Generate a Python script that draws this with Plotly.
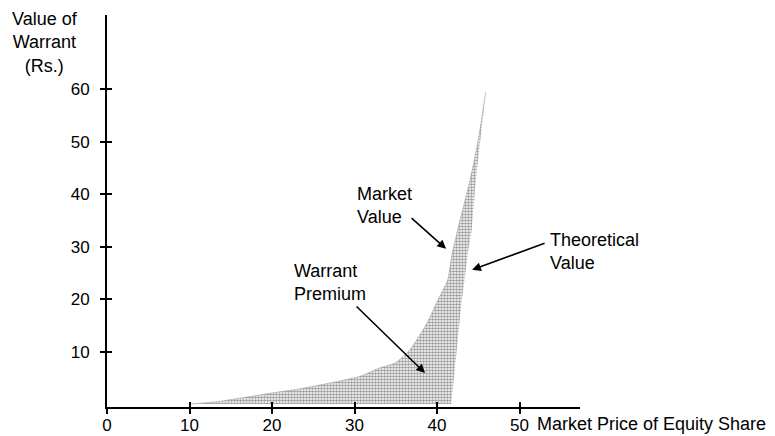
import plotly.graph_objects as go

# ---- data ----
market_price_mv = [10.1, 13.1, 16.1, 20.0, 23.4, 27.0, 30.7, 33.1, 34.9, 36.7, 38.8, 40.1, 41.3, 41.8, 42.5, 44.0, 45.0, 45.9]
market_value = [0, 0.4, 1.1, 2.1, 2.9, 4.0, 5.3, 6.9, 7.8, 10.3, 15.5, 19.8, 23.7, 28.4, 33.2, 42.7, 50.4, 59.5]

market_price_tv = [0, 10, 20, 30, 41.7, 41.9, 42.4, 43.0, 43.8, 44.2, 44.7, 45.9]
theoretical_value = [0, 0, 0, 0, 0, 2.7, 10.3, 19.8, 29.4, 33.2, 42.7, 59.5]

x_ticks = [0, 10, 20, 30, 40, 50]
x_tick_labels = ["0", "10", "20", "30", "40", "50"]
y_ticks = [10, 20, 30, 40, 50, 60]
y_tick_labels = ["10", "20", "30", "40", "50", "60"]

FONT = "Liberation Sans, Arial, sans-serif"
X_RANGE = [0, 57.33]
Y_RANGE = [-0.57, 74.2]

fig = go.Figure()

fig.add_trace(go.Scatter(
    x=market_price_tv, y=theoretical_value, mode="lines",
    line=dict(width=0, color="rgba(0,0,0,0)"), showlegend=False, hoverinfo="skip",
))
fig.add_trace(go.Scatter(
    x=market_price_mv, y=market_value, mode="lines",
    line=dict(width=0.6, color="#a0a0a0", shape="spline", smoothing=0.6),
    fill="tonexty", fillcolor="#a0a0a0",
    fillpattern=dict(shape=".", size=3, solidity=0.55, fgcolor="#383838", bgcolor="#ffffff"),
    showlegend=False, hoverinfo="skip",
))
# invisible trace to carry the overlay axes (for crossing ticks)
fig.add_trace(go.Scatter(x=[None], y=[None], xaxis="x2", yaxis="y2", showlegend=False, hoverinfo="skip"))

axis_common = dict(showgrid=False, zeroline=False, tickcolor="black", tickwidth=2, ticklen=5,
                   automargin=False)

fig.update_layout(
    width=775, height=436,
    margin=dict(l=107, r=195, t=15, b=29, autoexpand=False),
    paper_bgcolor="white", plot_bgcolor="white",
    font=dict(family=FONT, size=17, color="black"),
    xaxis=dict(range=X_RANGE, tickvals=x_ticks, ticktext=x_tick_labels, ticks="outside",
               showline=True, linecolor="black", linewidth=2, ticklabelstandoff=-3,
               tickfont=dict(size=17), **axis_common),
    yaxis=dict(range=Y_RANGE, tickvals=y_ticks, ticktext=y_tick_labels, ticks="outside",
               showline=True, linecolor="black", linewidth=2, ticklabelstandoff=7,
               tickfont=dict(size=17), **axis_common),
    xaxis2=dict(range=X_RANGE, tickvals=x_ticks[1:], overlaying="x", anchor="y2", side="bottom",
                ticks="inside", showticklabels=False, showline=False, **axis_common),
    yaxis2=dict(range=Y_RANGE, tickvals=y_ticks, overlaying="y", anchor="x2", side="left",
                ticks="inside", showticklabels=False, showline=False, **axis_common),
)

def px_x(p):
    return (p - 107) / 473.0

def px_y(p):
    return (407 - p) / 392.0

text_annos = [
    ("Value of<br>Warrant<br>(Rs.)", 45, 42, "center"),
    ("Market Price of Equity Share", 535, 424, "left"),
    ("Market<br>Value", 355, 205, "left"),
    ("Theoretical<br>Value", 548, 251, "left"),
    ("Warrant<br>Premium", 292, 282, "left"),
]
for txt, xp, yp, anc in text_annos:
    fig.add_annotation(text=txt, xref="paper", yref="paper", x=px_x(xp), y=px_y(yp),
                       xanchor=anc, yanchor="middle", align=anc, showarrow=False,
                       font=dict(family=FONT, size=18, color="black"))

# arrows: head in data coords, tail offset in pixels
arrows = [
    (41.1, 29.6, -36, -32),
    (44.25, 25.6, 74, -27),
    (38.55, 5.9, -70, -68),
]
for hx, hy, ax, ay in arrows:
    fig.add_annotation(x=hx, y=hy, xref="x", yref="y", text="", showarrow=True,
                       ax=ax, ay=ay, arrowhead=2, arrowsize=1.1, arrowwidth=1.6,
                       arrowcolor="black", standoff=0)

fig.write_html(
    "out.html",
    config={"displayModeBar": False},
    post_script="document.body.style.margin='0px';document.body.style.overflow='hidden';",
)
